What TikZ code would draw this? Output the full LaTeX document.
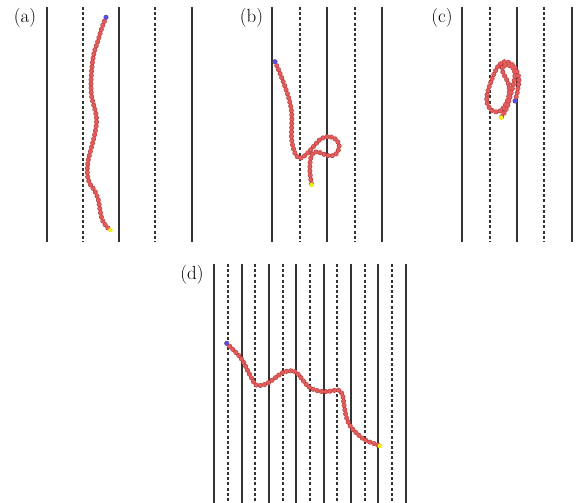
\documentclass[tikz,border=0pt]{standalone}
\definecolor{beadred}{RGB}{226,92,92}
\definecolor{beadedge}{RGB}{180,55,55}
\definecolor{endblue}{RGB}{80,80,225}
\definecolor{endyellow}{RGB}{240,240,20}
\tikzset{
  wall/.style={line width=2pt, black!80},
  dotwall/.style={line width=2pt, black!80, dash pattern=on 3pt off 2.2pt},
  beadchain/.style={draw=beadred, line width=4.0pt, line cap=round, dash pattern=on 0pt off 4.3pt,
      preaction={draw=beadedge, line width=5.0pt, line cap=round, dash pattern=on 0pt off 4.3pt}},
  bluebead/.style={fill=endblue},
  yellowbead/.style={fill=endyellow},
  panellabel/.style={font=\fontsize{19}{21}\selectfont, inner sep=0pt}
}
\begin{document}
\begin{tikzpicture}[x=1pt,y=-1pt]
\useasboundingbox (0,0) rectangle (579,503);
% ---------- panel (a)
\node[panellabel] (la) at (25,18) {(a)};
\foreach \x in {46.5,119,191.5} \draw[wall] (\x,7) -- (\x,242);
\foreach \x in {82.7,155} \draw[dotwall] (\x,7) -- (\x,242);
\path[beadchain] plot[smooth, tension=0.6] coordinates {(106,17.3) (101.7,28.3) (97.7,41.7) (94,53) (92,66.7) (91,83) (91.7,96.7) (95,110) (96.7,120) (95,133) (91.7,146.7) (88.3,160) (87.3,173) (89.3,183) (94.3,190) (98.3,200) (100,210) (102.3,220) (106.7,226.7) (110,230)};
\fill[bluebead] (106,17.3) circle (2.3pt);
\fill[yellowbead] (110.5,230) circle (2.3pt);
% ---------- panel (b)
\node[panellabel] (lb) at (251.5,18) {(b)};
\foreach \x in {272.3,327.3,382.3} \draw[wall] (\x,7) -- (\x,242);
\foreach \x in {299.7,354.7} \draw[dotwall] (\x,7) -- (\x,242);
\path[beadchain] plot[smooth, tension=0.6] coordinates {(275,61.7) (280,73.3) (285,86.7) (289.3,100) (291.7,113.3) (291.7,126.7) (291.7,140) (295,153.3) (300,158.3) (306.7,154) (313.3,146.7) (321.7,138.3) (330,136.7) (336.7,140) (339.3,146.7) (336,154) (330,156) (323.3,154) (316.7,151.7) (311.7,155) (310,163.3) (310,173.3) (311.7,185)};
\fill[bluebead] (275,61.7) circle (2.3pt);
\fill[yellowbead] (311.7,185) circle (2.3pt);
% ---------- panel (c)
\node[panellabel] (lc) at (442,18) {(c)};
\foreach \x in {462.3,517,571.7} \draw[wall] (\x,7) -- (\x,242);
\foreach \x in {489.7,544.3} \draw[dotwall] (\x,7) -- (\x,242);
\path[beadchain] plot[smooth, tension=0.6] coordinates {(515,101) (516.7,95) (518.3,86.7) (519,80) (517.7,73.3) (514.3,66.7) (509.3,62.7) (504.3,61.7) (499,65) (495,71.7) (491,81.7) (487.7,91.7) (486.7,100) (489,107.3) (494.3,111.7) (500,111) (504.3,106.7) (507.7,100) (509.3,91.7) (508.3,83.3) (505,76.7) (502.3,70.7) (503.3,66) (508.3,65) (513.3,68.3) (515,75) (513.3,85) (510,96.7) (506.7,108.3) (501,117.7)};
\fill[bluebead] (515,101) circle (2.3pt);
\fill[yellowbead] (501,117.7) circle (2.3pt);
% ---------- panel (d)
\node[panellabel] (ld) at (192,275) {(d)};
\foreach \i in {0,...,7} \draw[wall] (214.3+27.35*\i,264) -- (214.3+27.35*\i,503);
\foreach \i in {0,...,6} \draw[dotwall] (228+27.35*\i,264) -- (228+27.35*\i,503);
\path[beadchain] plot[smooth, tension=0.6] coordinates {(226.7,343.3) (231.7,348.3) (238.3,355) (243.3,361.7) (247.3,370) (251.7,378.3) (256,385) (263.3,385) (270,381.7) (276.7,376.7) (283.3,372.3) (291.7,370.7) (297.3,373.3) (302.7,380) (308.3,386.7) (315,390) (323.3,391.7) (331.7,391) (338.3,390) (342.7,395) (344,405) (346.7,418.3) (350.7,426.7) (356.7,433.3) (365,440) (373.3,443.3) (380,446)};
\fill[bluebead] (226.7,343.3) circle (2.3pt);
\fill[yellowbead] (380,446) circle (2.3pt);
\end{tikzpicture}
\end{document}
